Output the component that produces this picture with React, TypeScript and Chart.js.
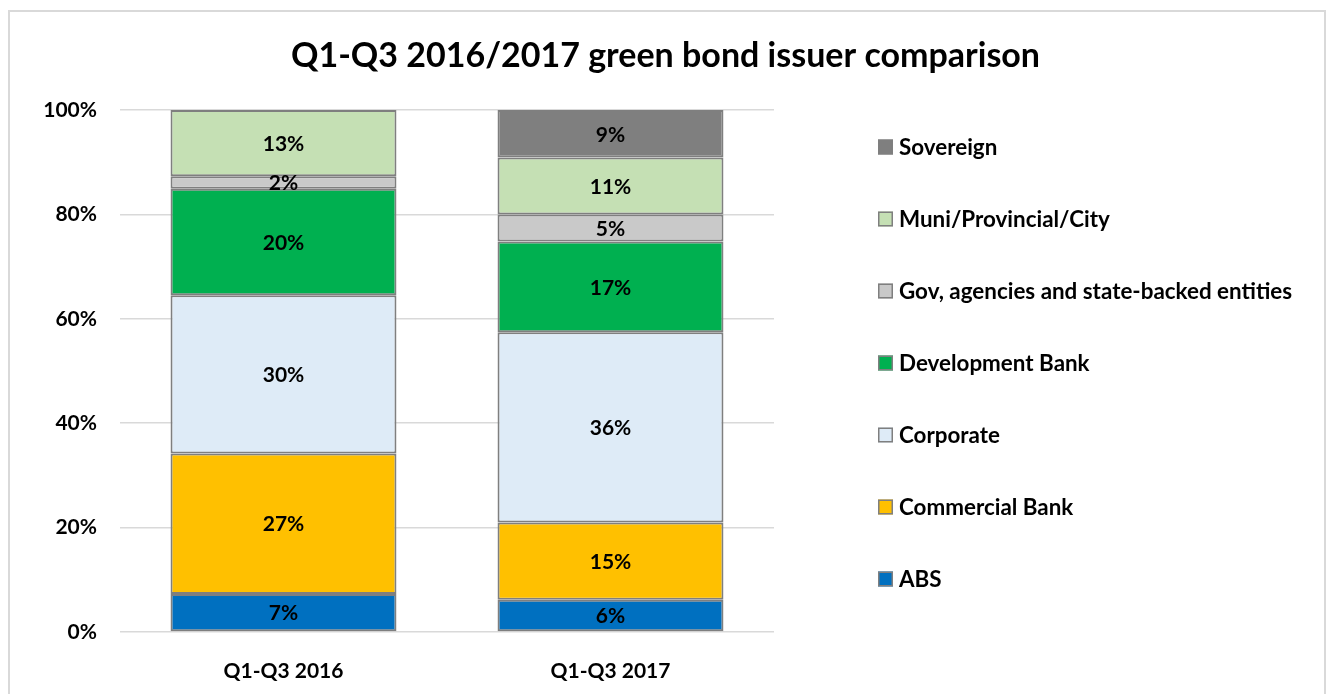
import React, { useEffect, useRef } from 'react';
import { Chart, registerables } from 'chart.js';

Chart.register(...registerables);

const categories = ['Q1-Q3 2016', 'Q1-Q3 2017'];
const absShare = [7.3, 6.2];
const commercialBankShare = [26.9, 14.8];
const corporateShare = [30.3, 36.4];
const developmentBankShare = [20.4, 17.4];
const govAgenciesShare = [2.4, 5.2];
const muniShare = [12.7, 10.9];
const sovereignShare = [0, 9.1];
const seriesLabels = [
  'ABS',
  'Commercial Bank',
  'Corporate',
  'Development Bank',
  'Gov, agencies and state-backed entities',
  'Muni/Provincial/City',
  'Sovereign',
];
const seriesColors = ['#0070C0', '#FFC000', '#DEEBF7', '#00B050', '#C9C9C9', '#C5E0B4', '#7F7F7F'];
const yTickValues = [0, 20, 40, 60, 80, 100];
const titleText = 'Q1-Q3 2016/2017 green bond issuer comparison';

const FONT = 'Lato, "Open Sans", sans-serif';
const W = 1327;
const H = 694;

const segmentLabelPlugin = {
  id: 'segmentLabels',
  afterDatasetsDraw(chart: any) {
    const ctx = chart.ctx;
    ctx.save();
    ctx.font = `bold 21px ${FONT}`;
    ctx.fillStyle = '#000';
    ctx.textAlign = 'center';
    ctx.textBaseline = 'middle';
    chart.data.datasets.forEach((ds: any, di: number) => {
      const meta = chart.getDatasetMeta(di);
      meta.data.forEach((bar: any, i: number) => {
        const v = ds.data[i];
        if (!v) return;
        const y = (bar.y + bar.base) / 2;
        ctx.fillText(Math.round(v) + '%', bar.x, y + 1);
      });
    });
    ctx.restore();
  },
};

const titlePlugin = {
  id: 'centeredTitle',
  afterDraw(chart: any) {
    const ctx = chart.ctx;
    ctx.save();
    ctx.font = `bold 34px ${FONT}`;
    ctx.fillStyle = '#000';
    ctx.textAlign = 'center';
    ctx.textBaseline = 'middle';
    ctx.fillText(titleText, chart.width / 2 + 2, 56);
    ctx.restore();
  },
};

const sideLegendPlugin = {
  id: 'sideLegend',
  afterDraw(chart: any) {
    const ctx = chart.ctx;
    const area = chart.chartArea;
    const x0 = area.right + 104;
    const y0 = area.top + 37;
    const step = 72;
    const box = 15;
    ctx.save();
    ctx.font = `bold 22.4px ${FONT}`;
    ctx.textAlign = 'left';
    ctx.textBaseline = 'middle';
    const ds = chart.data.datasets.slice().reverse();
    ds.forEach((d: any, i: number) => {
      const cy = y0 + i * step;
      ctx.fillStyle = d.backgroundColor;
      ctx.fillRect(x0, cy - box / 2, box, box);
      ctx.strokeStyle = '#7F7F7F';
      ctx.lineWidth = 1.5;
      ctx.strokeRect(x0 + 0.75, cy - box / 2 + 0.75, box - 1.5, box - 1.5);
      ctx.fillStyle = '#000';
      ctx.fillText(d.label, x0 + box + 6, cy + 1);
    });
    ctx.restore();
  },
};

export default function App() {
  const canvasRef = useRef<HTMLCanvasElement | null>(null);

  useEffect(() => {
    document.body.style.margin = '0';
    document.body.style.overflow = 'hidden';
    const canvas = canvasRef.current;
    if (!canvas) return;
    const seriesValues = [
      absShare,
      commercialBankShare,
      corporateShare,
      developmentBankShare,
      govAgenciesShare,
      muniShare,
      sovereignShare,
    ];
    const chart = new Chart(canvas, {
      type: 'bar',
      data: {
        labels: categories,
        datasets: seriesValues.map((vals, i) => ({
          label: seriesLabels[i],
          data: vals,
          backgroundColor: seriesColors[i],
          borderColor: '#7F7F7F',
          borderWidth: 2,
          borderSkipped: false,
          categoryPercentage: 1,
          barPercentage: 0.691,
        })),
      },
      options: {
        responsive: false,
        animation: false,
        devicePixelRatio: 1,
        layout: { padding: { left: 0, right: W - 774, top: 110, bottom: 0 } },
        plugins: {
          legend: { display: false },
          tooltip: { enabled: false },
          title: { display: false },
        },
        scales: {
          x: {
            stacked: true,
            grid: { display: false },
            border: { display: false },
            ticks: {
              color: '#000',
              padding: 19,
              font: { family: FONT, size: 21, weight: 'bold' },
            },
            afterFit: (axis: any) => {
              axis.height = H - 632;
            },
          },
          y: {
            stacked: true,
            min: 0,
            max: 100,
            border: { display: false },
            grid: { color: '#D9D9D9', lineWidth: 1.5, drawTicks: false },
            afterBuildTicks: (axis: any) => {
              axis.ticks = yTickValues.map((v) => ({ value: v }));
            },
            ticks: {
              color: '#000',
              padding: 23,
              font: { family: FONT, size: 21, weight: 'bold' },
              callback: (v: any) => v + '%',
            },
            afterFit: (axis: any) => {
              axis.width = 120;
            },
          },
        },
      },
      plugins: [segmentLabelPlugin, titlePlugin, sideLegendPlugin],
    });
    return () => chart.destroy();
  }, []);

  return (
    <div style={{ position: 'relative', width: W, height: H, overflow: 'hidden', background: '#fff' }}>
      <canvas ref={canvasRef} width={W} height={H} style={{ position: 'absolute', left: 0, top: 0 }} />
      <div
        style={{
          position: 'absolute',
          left: 8,
          top: 10,
          width: 1326 - 8 - 4,
          height: 720,
          border: '2px solid #D9D9D9',
          pointerEvents: 'none',
        }}
      />
    </div>
  );
}
